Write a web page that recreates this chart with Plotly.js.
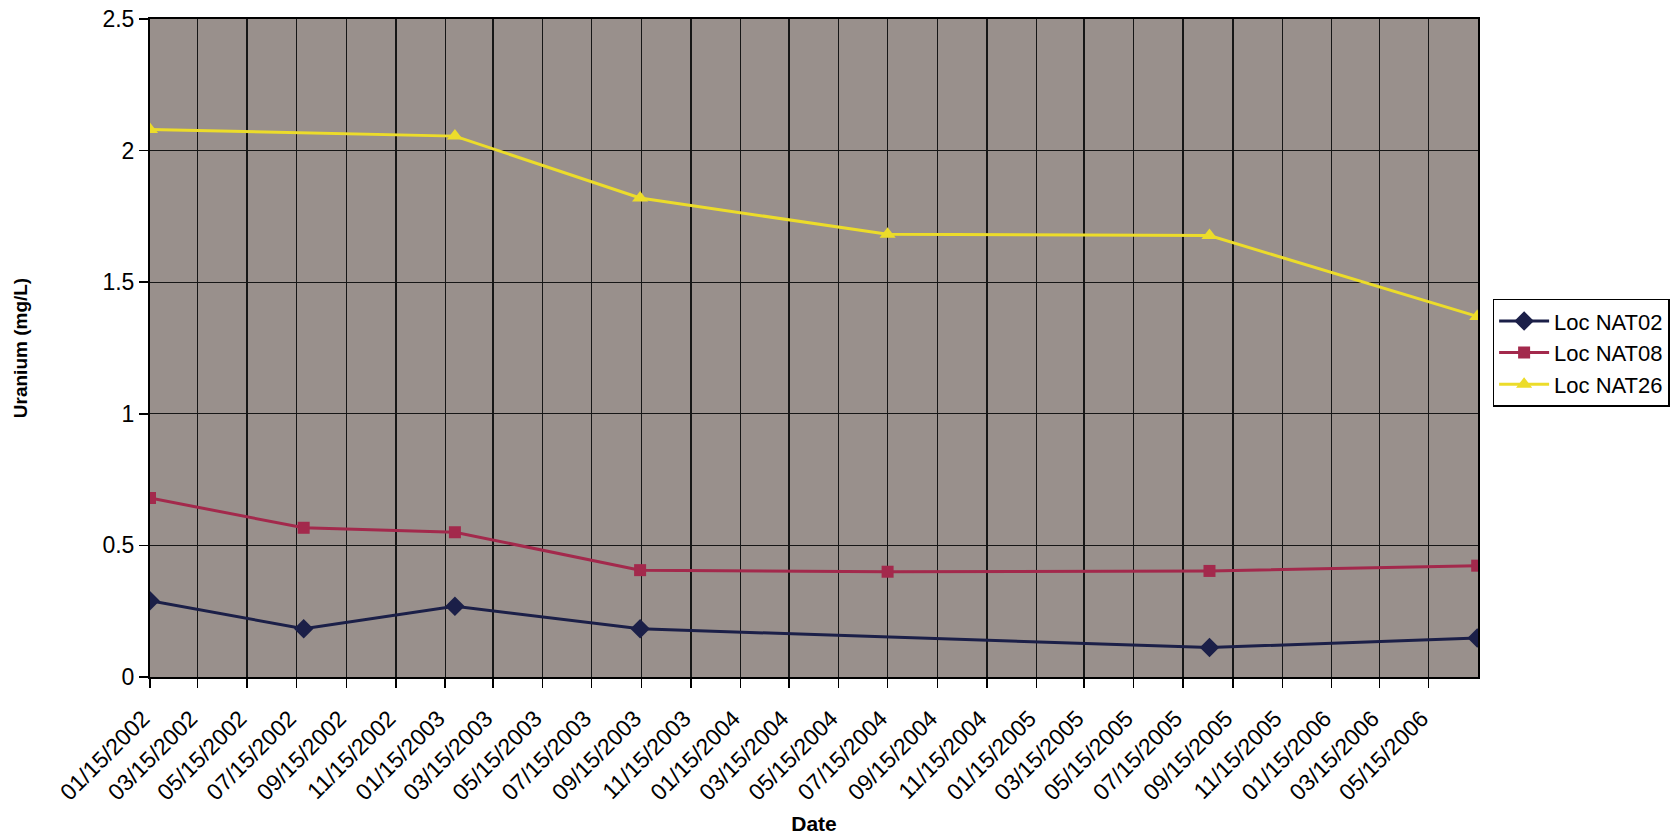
<!DOCTYPE html>
<html>
<head>
<meta charset="utf-8">
<script src="https://cdn.plot.ly/plotly-3.0.1.min.js"></script>
<style>
  html, body { margin: 0; padding: 0; background: #ffffff; }
  #chart { width: 1676px; height: 836px; }
</style>
</head>
<body>
<div id="chart"></div>
<script>
// ---- data ----
const sampleDates = ['2002-01-15', '2002-07-24', '2003-01-27', '2003-09-13', '2004-07-15', '2005-08-17', '2006-07-14'];
const nat02 = [0.29, 0.183, 0.269, 0.183, null, 0.112, 0.148];
const nat08 = [0.68, 0.567, 0.550, 0.406, 0.400, 0.403, 0.423];
const nat26 = [2.08, null, 2.055, 1.82, 1.682, 1.677, 1.37];
const seriesNames = ['Loc NAT02', 'Loc NAT08', 'Loc NAT26'];
const tickLabels = [
  '01/15/2002', '03/15/2002', '05/15/2002', '07/15/2002', '09/15/2002', '11/15/2002',
  '01/15/2003', '03/15/2003', '05/15/2003', '07/15/2003', '09/15/2003', '11/15/2003',
  '01/15/2004', '03/15/2004', '05/15/2004', '07/15/2004', '09/15/2004', '11/15/2004',
  '01/15/2005', '03/15/2005', '05/15/2005', '07/15/2005', '09/15/2005', '11/15/2005',
  '01/15/2006', '03/15/2006', '05/15/2006'
];
const axisStart = '01/15/2002';
const axisEnd = '07/15/2006';

function toIso(s) {
  const p = s.split('/');
  return p[2] + '-' + p[0] + '-' + p[1];
}
const tickVals = tickLabels.map(toIso);

const FONT = 'Liberation Sans, Arial, Helvetica, sans-serif';

const traces = [
  {
    x: sampleDates, y: nat02, name: seriesNames[0], type: 'scatter', mode: 'lines+markers',
    connectgaps: true,
    line: { color: '#1b1f48', width: 3 },
    marker: { symbol: 'diamond', size: 15, color: '#1b1f48' }
  },
  {
    x: sampleDates, y: nat08, name: seriesNames[1], type: 'scatter', mode: 'lines+markers',
    connectgaps: true,
    line: { color: '#a3294c', width: 3 },
    marker: { symbol: 'square', size: 12, color: '#a3294c' }
  },
  {
    x: sampleDates, y: nat26, name: seriesNames[2], type: 'scatter', mode: 'lines+markers',
    connectgaps: true,
    line: { color: '#ecdc2a', width: 3 },
    marker: { symbol: 'triangle-up', size: 14, color: '#ecdc2a' }
  }
];

const layout = {
  width: 1676, height: 836,
  margin: { l: 150, r: 198, t: 19, b: 159, autoexpand: false },
  paper_bgcolor: '#ffffff',
  plot_bgcolor: '#99908c',
  font: { family: FONT, color: '#000000', size: 22 },
  showlegend: true,
  legend: {
    x: 1.011, xanchor: 'left', y: 0.575, yanchor: 'top',
    bgcolor: '#ffffff', bordercolor: '#000000', borderwidth: 1.5,
    font: { family: FONT, size: 22, color: '#000000' },
    itemwidth: 50,
    traceorder: 'normal'
  },
  xaxis: {
    type: 'date',
    automargin: false,
    range: [toIso(axisStart), toIso(axisEnd)],
    tickmode: 'array',
    tickvals: tickVals,
    ticktext: tickLabels,
    tickangle: -45,
    tickfont: { family: FONT, size: 23, color: '#000000' },
    ticklabelstandoff: 8,
    ticklabelshift: -7,
    ticks: 'outside', ticklen: 9, tickwidth: 1.5, tickcolor: '#000000',
    showgrid: true, gridcolor: '#161616', gridwidth: 1.4,
    showline: true, linecolor: '#000000', linewidth: 2, mirror: true,
    zeroline: false,
    title: { text: 'Date', font: { family: FONT, size: 21, color: '#000000', weight: 'bold' }, standoff: 12 }
  },
  yaxis: {
    automargin: false,
    range: [0, 2.5],
    dtick: 0.5, tick0: 0,
    tickfont: { family: FONT, size: 23, color: '#000000' },
    ticks: 'outside', ticklen: 9, tickwidth: 1.5, tickcolor: '#000000',
    showgrid: true, gridcolor: '#161616', gridwidth: 1.4,
    showline: true, linecolor: '#000000', linewidth: 2, mirror: true,
    zeroline: false,
    title: { text: 'Uranium (mg/L)', font: { family: FONT, size: 19, color: '#000000', weight: 'bold' }, standoff: 70 }
  }
};

Plotly.newPlot('chart', traces, layout, { displayModeBar: false, staticPlot: true });
</script>
</body>
</html>
